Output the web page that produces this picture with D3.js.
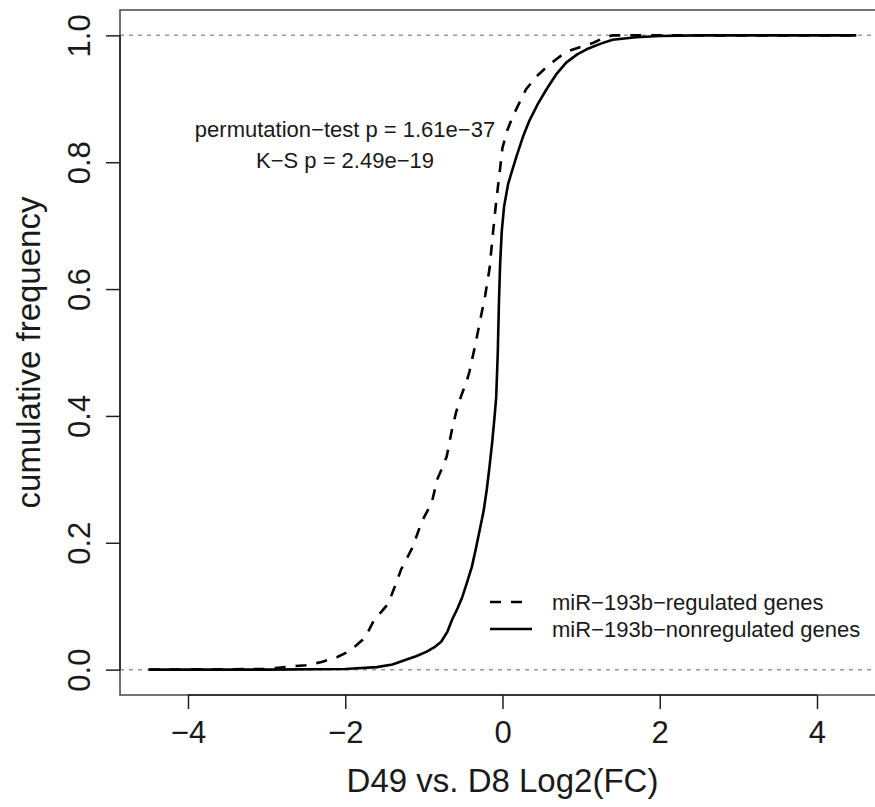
<!DOCTYPE html>
<html>
<head>
<meta charset="utf-8">
<script src="https://cdn.jsdelivr.net/npm/d3@7"></script>
<style>
  html, body { margin: 0; padding: 0; background: #fff; }
  svg text { font-family: "Liberation Sans", Arial, Helvetica, sans-serif; fill: #1a1a1a; }
</style>
</head>
<body>
<svg id="chart" width="875" height="807"></svg>
<script>
// ---- data ----
const xTicks = [-4, -2, 0, 2, 4];
const yTicks = [0, 0.2, 0.4, 0.6, 0.8, 1.0];

// miR-193b-regulated genes (dashed)
const regX = [-4.5, -3.0, -2.85, -2.7, -2.5, -2.3, -2.1, -1.98, -1.88, -1.78, -1.70, -1.63, -1.55, -1.48, -1.41, -1.35, -1.29, -1.25, -1.14, -1.06, -1.02, -0.9, -0.83, -0.76, -0.71, -0.64, -0.59, -0.53, -0.45, -0.42, -0.35, -0.29, -0.22, -0.165, -0.12, -0.08, -0.04, 0.0, 0.06, 0.13, 0.2, 0.3, 0.43, 0.56, 0.68, 0.81, 1.0, 1.15, 1.3, 1.4, 4.5];
const regY = [0, 0.001, 0.003, 0.005, 0.007, 0.012, 0.02, 0.027, 0.036, 0.047, 0.062, 0.079, 0.09, 0.10, 0.118, 0.137, 0.158, 0.167, 0.194, 0.222, 0.235, 0.263, 0.30, 0.32, 0.336, 0.38, 0.406, 0.43, 0.457, 0.47, 0.51, 0.547, 0.59, 0.632, 0.69, 0.738, 0.78, 0.823, 0.85, 0.872, 0.89, 0.915, 0.935, 0.95, 0.962, 0.974, 0.982, 0.988, 0.997, 1.0, 1.0];

// miR-193b-nonregulated genes (solid)
const nonX = [-4.5, -3.0, -2.0, -1.6, -1.4, -1.22, -1.1, -0.97, -0.87, -0.78, -0.70, -0.64, -0.57, -0.51, -0.45, -0.39, -0.34, -0.29, -0.24, -0.2, -0.165, -0.13, -0.10, -0.08, -0.06, -0.045, -0.03, -0.01, 0.02, 0.07, 0.13, 0.18, 0.26, 0.34, 0.45, 0.56, 0.68, 0.81, 0.95, 1.07, 1.25, 1.4, 1.7, 2.0, 2.5, 4.5];
const nonY = [0, 0.0, 0.001, 0.004, 0.008, 0.016, 0.021, 0.028, 0.035, 0.044, 0.060, 0.079, 0.097, 0.115, 0.138, 0.162, 0.19, 0.22, 0.25, 0.284, 0.32, 0.36, 0.40, 0.43, 0.50, 0.58, 0.64, 0.69, 0.73, 0.765, 0.79, 0.81, 0.84, 0.865, 0.892, 0.915, 0.938, 0.957, 0.97, 0.978, 0.987, 0.993, 0.997, 0.999, 1.0, 1.0];

const legendLabels = ["miR\u2212193b\u2212regulated genes", "miR\u2212193b\u2212nonregulated genes"];
const annotLines = ["permutation\u2212test p = 1.61e\u221237", "K\u2212S p = 2.49e\u221219"];
const xTitle = "D49 vs. D8 Log2(FC)";
const yTitle = "cumulative frequency";

// ---- layout ----
const svg = d3.select("#chart");
const L = 120, T = 10, R = 885, B = 695;

const x = d3.scaleLinear().domain([-4.865, 4.865]).range([L, R]);
const y = d3.scaleLinear().domain([-0.04, 1.04]).range([B, T]);

const axisColor = "#222";

// reference lines at 0 and 1
svg.append("g").selectAll("line").data([0, 1]).join("line")
  .attr("x1", L).attr("x2", R)
  .attr("y1", d => y(d)).attr("y2", d => y(d))
  .attr("stroke", "#9a9a9a").attr("stroke-width", 1.5)
  .attr("stroke-dasharray", "4,5");

// box
svg.append("rect").attr("x", L).attr("y", T).attr("width", R - L).attr("height", B - T)
  .attr("fill", "none").attr("stroke", "#444").attr("stroke-width", 1.5);

// x axis
const gx = svg.append("g").attr("transform", `translate(0,${B})`)
  .call(d3.axisBottom(x).tickValues(xTicks).tickSize(14).tickSizeOuter(0).tickPadding(12));
gx.select(".domain").remove();
gx.selectAll(".tick line").attr("stroke", axisColor).attr("stroke-width", 1.5);
gx.selectAll(".tick text").attr("font-size", 31).attr("fill", "#1a1a1a").attr("dy", "0.71em");
gx.append("line").attr("x1", x(xTicks[0])).attr("x2", x(xTicks[xTicks.length - 1]))
  .attr("y1", 0).attr("y2", 0).attr("stroke", axisColor).attr("stroke-width", 1.5);

// y axis
const gy = svg.append("g").attr("transform", `translate(${L},0)`)
  .call(d3.axisLeft(y).tickValues(yTicks).tickSize(14).tickSizeOuter(0).tickFormat(d3.format(".1f")));
gy.select(".domain").remove();
gy.selectAll(".tick line").attr("stroke", axisColor).attr("stroke-width", 1.5);
gy.selectAll(".tick text")
  .attr("font-size", 31).attr("fill", "#1a1a1a")
  .attr("text-anchor", "middle")
  .attr("x", null).attr("dy", null)
  .attr("transform", "translate(-30,0) rotate(-90)");
gy.append("line").attr("x1", 0).attr("x2", 0)
  .attr("y1", y(yTicks[0])).attr("y2", y(yTicks[yTicks.length - 1]))
  .attr("stroke", axisColor).attr("stroke-width", 1.5);

// titles
svg.append("text").attr("x", x(0)).attr("y", 792).attr("text-anchor", "middle")
  .attr("font-size", 33).text(xTitle);
svg.append("text").attr("transform", `translate(40,${(T + B) / 2}) rotate(-90)`)
  .attr("text-anchor", "middle").attr("font-size", 33).text(yTitle);

// curves
const line = d3.line().x(d => x(d[0])).y(d => y(d[1]));
const regPts = regX.map((v, i) => [v, regY[i]]);
const nonPts = nonX.map((v, i) => [v, nonY[i]]);

svg.append("path").datum(nonPts).attr("d", line)
  .attr("fill", "none").attr("stroke", "#000").attr("stroke-width", 2.6)
  .attr("stroke-linejoin", "round");
svg.append("path").datum(regPts).attr("d", line)
  .attr("fill", "none").attr("stroke", "#000").attr("stroke-width", 2.6)
  .attr("stroke-dasharray", "11,10");

// annotation
svg.append("g").selectAll("text").data(annotLines).join("text")
  .attr("x", 345).attr("y", (d, i) => 137 + i * 31)
  .attr("text-anchor", "middle").attr("font-size", 22).text(d => d);

// legend
const lg = svg.append("g");
const dashes = [ "11,10", null ];
legendLabels.forEach((lab, i) => {
  const yy = 602 + i * 27;
  lg.append("line").attr("x1", 490).attr("x2", 532).attr("y1", yy).attr("y2", yy)
    .attr("stroke", "#000").attr("stroke-width", 2.6)
    .attr("stroke-dasharray", dashes[i]);
  lg.append("text").attr("x", 552).attr("y", yy + 8).attr("font-size", 22).text(lab);
});
</script>
</body>
</html>
